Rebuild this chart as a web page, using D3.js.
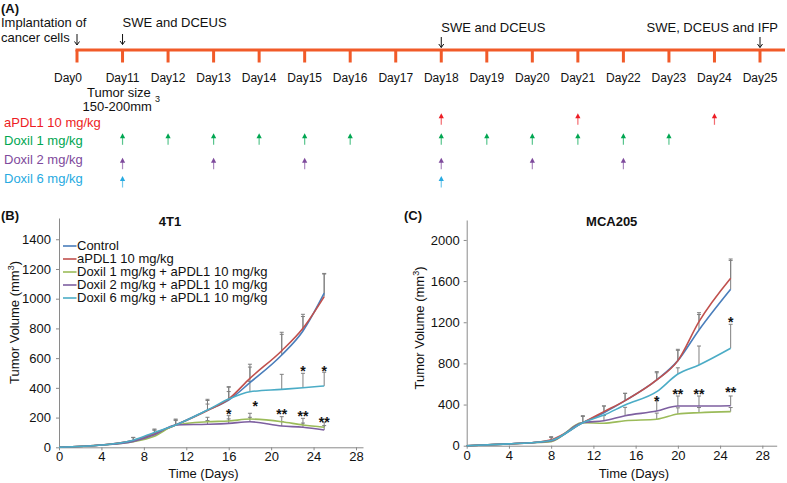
<!DOCTYPE html>
<html><head><meta charset="utf-8">
<script src="https://cdn.jsdelivr.net/npm/d3@7"></script>
<style>
body{margin:0;background:#fff}
svg{display:block}
text{font-family:"Liberation Sans",Arial,Helvetica,sans-serif;fill:#111}
</style>
</head><body>
<svg id="c" width="787" height="483"></svg>
<script>
// ---------------- DATA ----------------
// Panel A: schedule
const timelineDays = ["Day0","Day11","Day12","Day13","Day14","Day15","Day16","Day17","Day18","Day19","Day20","Day21","Day22","Day23","Day24","Day25"];
const eventDays = ["Day11","Day18","Day25"];
const eventLabels = ["SWE and DCEUS","SWE and DCEUS","SWE, DCEUS and IFP"];
const treatmentNames = ["aPDL1 10 mg/kg","Doxil 1 mg/kg","Doxil 2 mg/kg","Doxil 6 mg/kg"];
const aPDL1Doses = [18,21,24];
const doxil1Doses = [11,12,13,14,15,16,18,19,20,21,22,23];
const doxil2Doses = [11,13,15,18,20,22];
const doxil6Doses = [11,18];

// Panels B/C: tumour growth
const seriesNames = ["Control","aPDL1 10 mg/kg","Doxil 1 mg/kg + aPDL1 10 mg/kg","Doxil 2 mg/kg + aPDL1 10 mg/kg","Doxil 6 mg/kg + aPDL1 10 mg/kg"];

// 4T1
const daysB     = [0, 4, 7, 9, 11, 14, 16, 18, 21, 23, 25];
const controlB  = [0, 15, 45, 95, 150, 250, 318, 435, 621, 783, 1037];
const apdl1B    = [0, 15, 45, 92, 150, 248, 325, 464, 650, 801, 1014];
const doxil1B   = [0, 15, 38, 75, 150, 172, 177, 190, 172, 150, 135];
const doxil2B   = [0, 15, 40, 85, 150, 155, 161, 172, 143, 135, 116];
const doxil6B   = [0, 15, 48, 100, 150, 251, 325, 374, 390, 401, 413];
const controlErrB = [0, 0, 22, 28, 40, 73, 86, 105, 139, 97, 129];
const apdl1ErrB   = [0, 0, 20, 25, 35, 67, 83, 95, 124, 94, 156];
const doxil1ErrB  = [0, 0, 0, 0, 0, 30, 36, 39, 34, 45, 33];
const doxil2ErrB  = [0, 0, 0, 0, 0, 25, 30, 30, 30, 28, 30];
const doxil6ErrB  = [0, 0, 0, 15, 30, 40, 50, 70, 101, 97, 92];
const starDaysB = [16, 18.5, 21, 23, 25, 23, 25];
const starValsB = [244, 300, 244, 229, 190, 536, 536];
const starTextB = ["*","*","**","**","**","*","*"];

// MCA205
const daysC     = [0, 4, 6, 8, 11, 13, 15, 18, 20, 22, 25];
const controlC  = [0, 18, 28, 50, 224, 321, 438, 639, 827, 1125, 1521];
const apdl1C    = [0, 18, 28, 58, 224, 331, 438, 639, 827, 1206, 1628];
const doxil1C   = [0, 18, 28, 40, 224, 218, 243, 257, 308, 321, 331];
const doxil2C   = [0, 18, 28, 45, 224, 243, 292, 337, 386, 386, 389];
const doxil6C   = [0, 18, 28, 50, 224, 298, 396, 525, 697, 785, 947];
const controlErrC = [0, 0, 0, 30, 60, 65, 71, 70, 100, 150, 280];
const apdl1ErrC   = [0, 0, 0, 30, 68, 55, 71, 81, 110, 87, 187];
const doxil1ErrC  = [0, 0, 0, 0, 0, 0, 0, 60, 60, 50, 40];
const doxil2ErrC  = [0, 0, 0, 0, 0, 50, 81, 100, 97, 97, 94];
const doxil6ErrC  = [0, 0, 0, 0, 0, 0, 0, 0, 60, 184, 233];
const starDaysC = [18, 20, 22, 25, 25];
const starValsC = [461, 535, 535, 548, 1229];
const starTextC = ["*","**","**","**","*"];

const yTicksB = [0,200,400,600,800,1000,1200,1400];
const yTicksC = [0,400,800,1200,1600,2000];
const xTicks  = [0,4,8,12,16,20,24,28];

// ---------------- STYLE ----------------
const seriesColors = ["#4a7ebb","#c0504d","#9bbb59","#7d5fa0","#4bacc6"];
const treatColors = ["#ed1c24","#00a651","#7e4a9c","#27aae1"];
const orange = "#f15a29";
const axisGrey = "#8a8a8a";
const errGrey = "#7f7f7f";

const svg = d3.select("#c");

// ---------------- PANEL A ----------------
const gA = svg.append("g");
const xA = d3.scalePoint().domain(timelineDays).range([77, 760]);
const lineY = 50;
gA.append("text").attr("x",1).attr("y",12.5).style("font-size","13px").style("font-weight","bold").text("(A)");
gA.append("line").attr("x1",xA("Day0")-1.5).attr("x2",785).attr("y1",lineY).attr("y2",lineY)
  .attr("stroke",orange).attr("stroke-width",3);
gA.selectAll("line.tk").data(timelineDays).join("line").attr("class","tk")
  .attr("x1",d=>xA(d)).attr("x2",d=>xA(d)).attr("y1",lineY).attr("y2",62.5)
  .attr("stroke",orange).attr("stroke-width",3);
gA.selectAll("text.dl").data(timelineDays).join("text").attr("class","dl")
  .attr("x",(d,i)=>xA(d)+(i===0?-9:0)).attr("y",81.5).attr("text-anchor","middle")
  .style("font-size","12px").text(d=>d);

function downArrow(g,x,y0,y1){
  g.append("line").attr("x1",x).attr("x2",x).attr("y1",y0).attr("y2",y1).attr("stroke","#111").attr("stroke-width",1);
  g.append("path").attr("d",`M${x-2.5},${y1-3.5}L${x},${y1}L${x+2.5},${y1-3.5}`).attr("fill","none").attr("stroke","#111").attr("stroke-width",1);
}
// implantation
gA.append("text").attr("x",1).attr("y",26.5).style("font-size","13px").text("Implantation of");
gA.append("text").attr("x",1).attr("y",41.5).style("font-size","13px").text("cancer cells");
downArrow(gA, xA("Day0"), 34, 45);
// imaging events
const evY = [26.7, 31.5, 31.5];
const evArrowTop = [34, 37, 37];
eventDays.forEach((d,i)=>{
  const x = xA(d);
  const anchorEnd = i===2;
  gA.append("text").attr("x", anchorEnd? 778 : x).attr("y",evY[i]).attr("text-anchor",anchorEnd?"end":"start")
    .style("font-size","13px").text(eventLabels[i]);
  downArrow(gA, x, evArrowTop[i], evArrowTop[i]+10.5);
});
gA.append("text").attr("x",87).attr("y",97).style("font-size","13px").text("Tumor size");
gA.append("text").attr("x",82.5).attr("y",110.5).style("font-size","13px").text("150-200mm");
gA.append("text").attr("x",155).attr("y",102).style("font-size","9px").text("3");

// treatment rows
const doseLists = [aPDL1Doses, doxil1Doses, doxil2Doses, doxil6Doses];
const rowBase = [126.5, 145, 164, 182.5];
const arrowTop = [113.3, 133.3, 157.7, 176];
treatmentNames.forEach((name,i)=>{
  gA.append("text").attr("x",4).attr("y",rowBase[i]).style("font-size","13px")
    .style("fill",treatColors[i]).text(name);
  const ga = gA.append("g");
  ga.selectAll("g").data(doseLists[i]).join("g").each(function(d){
    const x = xA("Day"+d);
    const g = d3.select(this);
    g.append("line").attr("x1",x).attr("x2",x).attr("y1",arrowTop[i]+4).attr("y2",arrowTop[i]+11.5)
      .attr("stroke",treatColors[i]).attr("stroke-width",1.2).attr("stroke-opacity",0.65);
    g.append("path").attr("d",`M${x-2.6},${arrowTop[i]+5}L${x},${arrowTop[i]}L${x+2.6},${arrowTop[i]+5}Z`)
      .attr("fill",treatColors[i]);
  });
});

// ---------------- PANELS B & C ----------------
function growthPanel(cfg){
  const g = svg.append("g");
  const x = d3.scaleLinear().domain([0, cfg.xMax]).range([cfg.x0, cfg.x1]);
  const y = d3.scaleLinear().domain([0, cfg.yMax]).range([cfg.y0, cfg.y1]);
  // axes
  const ax = g.append("g").attr("transform",`translate(0,${cfg.y0})`)
    .call(d3.axisBottom(x).tickValues(xTicks).tickFormat(d3.format("d")).tickSize(3).tickSizeOuter(0).tickPadding(cfg.xPad));
  const ay = g.append("g").attr("transform",`translate(${cfg.x0},0)`)
    .call(d3.axisLeft(y).tickValues(cfg.yTicks).tickFormat(d3.format("d")).tickSize(3).tickSizeOuter(0).tickPadding(cfg.yPad));
  [ax,ay].forEach(a=>{
    a.select(".domain").attr("stroke",axisGrey);
    a.selectAll(".tick line").attr("stroke",axisGrey);
    a.selectAll(".tick text").style("font-size",cfg.tickFont).style("fill","#111");
  });
  ax.selectAll(".tick text").attr("dy","0.71em");
  // labels
  g.append("text").attr("x",cfg.panelX).attr("y",220).style("font-size","13px").style("font-weight","bold").text(cfg.panel);
  g.append("text").attr("x",cfg.titleX).attr("y",225.7).attr("text-anchor","middle")
    .style("font-size","13px").style("font-weight","bold").text(cfg.title);
  g.append("text").attr("x",cfg.xLabelX).attr("y",477.5).attr("text-anchor","middle").style("font-size","13px").text("Time (Days)");
  const yl = g.append("text").attr("transform",`translate(${cfg.yLabelX},${cfg.yLabelY}) rotate(-90)`)
    .attr("text-anchor","middle").style("font-size","13px");
  yl.append("tspan").text("Tumor Volume (mm");
  yl.append("tspan").attr("dy","-5").style("font-size","9px").text("3");
  yl.append("tspan").attr("dy","5").text(")");

  const series = cfg.values.map((vals,k)=>({k, pts: cfg.days.map((d,i)=>({d, v: vals[i], e: cfg.errs[k][i]}))}));
  // error bars
  const eg = g.append("g").attr("stroke",errGrey).attr("stroke-width",1);
  series.forEach(s=>{
    s.pts.filter(p=>p.e>0).forEach(p=>{
      const xx = x(p.d), ya = y(p.v), yb = y(p.v+p.e);
      eg.append("line").attr("x1",xx).attr("x2",xx).attr("y1",ya).attr("y2",yb);
      eg.append("line").attr("x1",xx-2).attr("x2",xx+2).attr("y1",yb).attr("y2",yb);
    });
  });
  // lines
  const line = d3.line().x(p=>x(p.d)).y(p=>y(p.v)).curve(cfg.curve);
  g.selectAll("path.ser").data(series).join("path").attr("class","ser")
    .attr("d",s=>line(s.pts)).attr("fill","none").attr("stroke",s=>seriesColors[s.k]).attr("stroke-width",1.6);
  // stars
  g.selectAll("text.star").data(cfg.starDays.map((d,i)=>({d, v: cfg.starVals[i], t: cfg.starText[i]}))).join("text")
    .attr("class","star").attr("x",s=>x(s.d)).attr("y",s=>y(s.v)+8).attr("text-anchor","middle")
    .style("font-size","14px").style("font-weight","bold").text(s=>s.t);
  // legend
  if(cfg.legend){
    const lg = g.append("g");
    seriesNames.forEach((n,i)=>{
      const by = 250 + i*13;
      lg.append("line").attr("x1",63).attr("x2",76.5).attr("y1",by-4).attr("y2",by-4)
        .attr("stroke",seriesColors[i]).attr("stroke-width",1.6);
      lg.append("text").attr("x",77).attr("y",by).style("font-size","13px").text(n);
    });
  }
}

growthPanel({
  panel:"(B)", panelX:1, title:"4T1", titleX:170, xLabelX:203.5, yLabelX:19, yLabelY:322.5,
  x0:59, x1:363, xMax:28.66, y0:447.3, y1:218, yMax:1543, yTicks:yTicksB, yPad:5, xPad:1, tickFont:"13px",
  days:daysB, values:[controlB,apdl1B,doxil1B,doxil2B,doxil6B],
  errs:[controlErrB,apdl1ErrB,doxil1ErrB,doxil2ErrB,doxil6ErrB],
  starDays:starDaysB, starVals:starValsB, starText:starTextB,
  curve:d3.curveMonotoneX, legend:true
});
growthPanel({
  panel:"(C)", panelX:404, title:"MCA205", titleX:611.7, xLabelX:634, yLabelX:424, yLabelY:328,
  x0:466.7, x1:776.7, xMax:29.36, y0:445.7, y1:220, yMax:2194, yTicks:yTicksC, yPad:4, xPad:2, tickFont:"13px",
  days:daysC, values:[controlC,apdl1C,doxil1C,doxil2C,doxil6C],
  errs:[controlErrC,apdl1ErrC,doxil1ErrC,doxil2ErrC,doxil6ErrC],
  starDays:starDaysC, starVals:starValsC, starText:starTextC,
  curve:d3.curveMonotoneX, legend:false
});
</script>
</body></html>
